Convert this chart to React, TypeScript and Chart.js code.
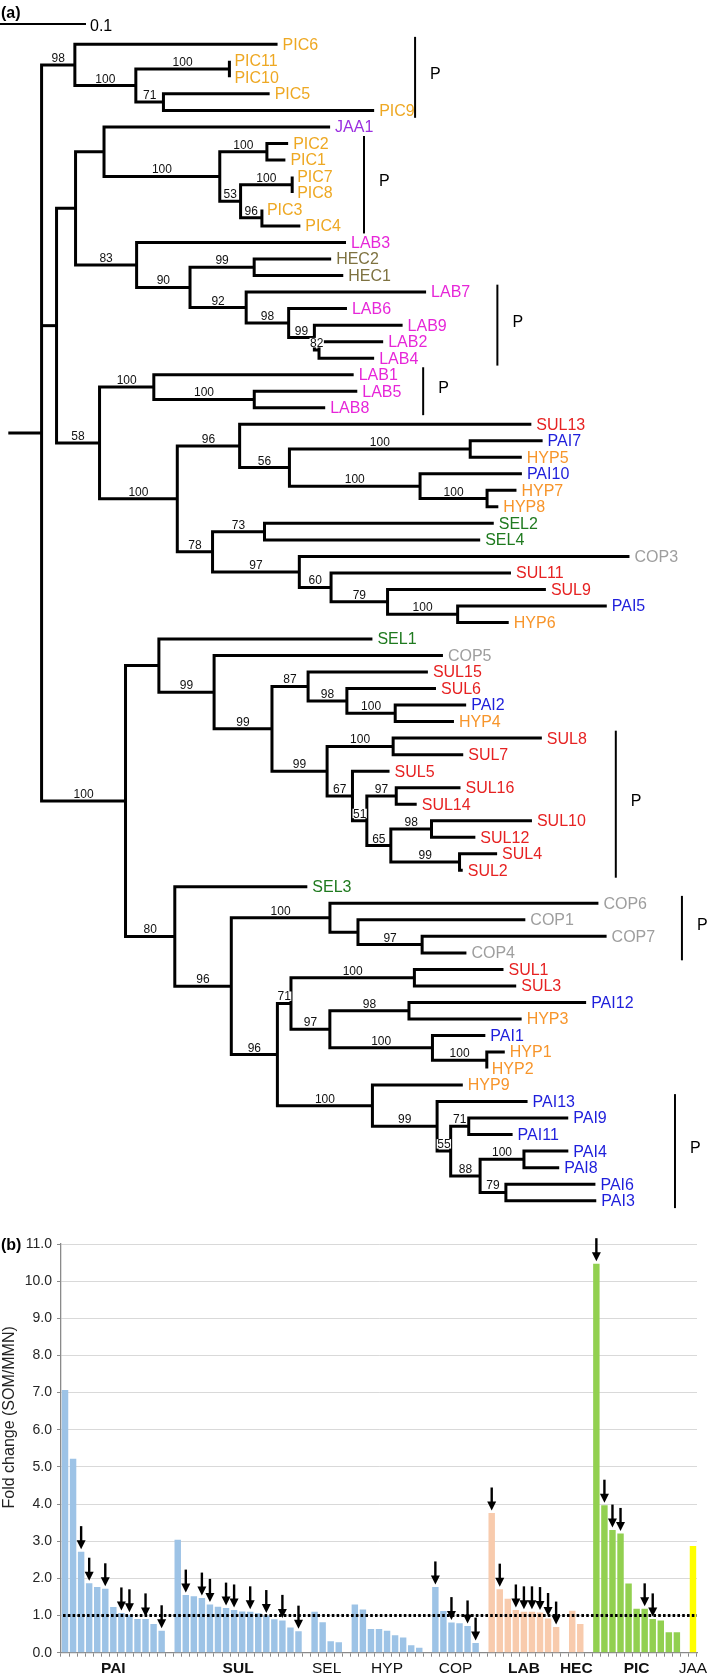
import React, { useEffect, useRef } from 'react';
import { Chart, registerables } from 'chart.js';
Chart.register(...registerables);

const FONT = '"Liberation Sans", Arial, Helvetica, sans-serif';

// ---------------- Tree (a) data ----------------
const treeNewick = `((PIC6:0.2357,((PIC11:0,PIC10:0)100:0.1088,(PIC5:0.1235,PIC9:0.2450)71:0.0321)100:0.0709)98:0.0387,
(((JAA1:0.2629,((PIC2:0.0247,PIC1:0.0215)100:0.0548,((PIC7:0,PIC8:0)100:0.0600,(PIC3:0,PIC4:0.0447)96:0.0248)53:0.0242)100:0.1346):0.0331,
(LAB3:0.2435,((HEC2:0.0895,HEC1:0.1036)99:0.0746,(LAB7:0.2092,(LAB6:0.0678,(LAB9:0.1026,(LAB2:0.0746,LAB4:0.0641)82:0.0054)99:0.0299)98:0.0494)92:0.0653)90:0.0621)83:0.0710):0.0221,
((LAB1:0.2324,(LAB5:0.1198,LAB8:0.0825)100:0.1168)100:0.0631,
((SUL13:0.3392,((PAI7:0.0842,HYP5:0.0600)100:0.2102,(PAI10:0.1184,(HYP7:0.0342,HYP8:0.0131)100:0.0779)100:0.1519)56:0.0579)96:0.0725,
((SEL2:0.2666,SEL4:0.2508)73:0.0604,(COP3:0.3839,(SUL11:0.2092,(SUL9:0.1841,(PAI5:0.1734,HYP6:0.0594)100:0.0815)79:0.0657)60:0.0369)97:0.1009)78:0.0410)100:0.0904)58:0.0500):0.0174,
((SEL1:0.2483,(COP5:0.2661,((SUL15:0.1393,(SUL6:0.1036,(PAI2:0.0825,HYP4:0.0683)100:0.0562)98:0.0451)87:0.0420,((SUL8:0.1729,SUL7:0.0815)100:0.0768,(SUL5:0.0431,((SUL16:0.0747,SUL14:0.0238)97:0.0342,((SUL10:0.1168,SUL12:0.0510)98:0.0473,(SUL4:0.0437,SUL2:0.0037)99:0.0799)65:0.0279)51:0.0167)67:0.0295)99:0.0641)99:0.0673)99:0.0642):0.0388,
(SEL3:0.1541,((COP6:0.3122,(COP1:0.1946,(COP7:0.2145,COP4:0.0515)97:0.0746):0.0326)100:0.1147,
(((SUL1:0.1036,SUL3:0.1184)100:0.1435,((PAI12:0.2060,HYP3:0.1310)98:0.0920,(PAI1:0.0615,(HYP1:0.0209,HYP2:0)100:0.0632)100:0.1193)97:0.0452)71:0.0158,
(HYP9:0.1051,(PAI13:0.1052,((PAI9:0.1157,PAI11:0.0510)71:0.0210,((PAI4:0.0516,PAI8:0.0410)100:0.0510,(PAI6:0.1041,PAI3:0.1051)79:0.0300)88:0.0342)55:0.0158)99:0.0752)100:0.1105)96:0.0536)96:0.0657)80:0.0573)100:0.0976):0.0387):0.0202;`;

const taxonColors: Record<string, string> = {
  PIC: '#EEA823',
  HYP: '#F7952B',
  JAA: '#9B2FE0',
  LAB: '#E626D8',
  HEC: '#7E7240',
  SUL: '#E62222',
  PAI: '#1E1EDB',
  SEL: '#1F7A1F',
  COP: '#9E9E9E',
};

const cladeBrackets = [
  { first: 'PIC6', last: 'PIC9', depth: 0.4730, label: 'P' },
  { first: 'PIC2', last: 'PIC4', depth: 0.4136, label: 'P' },
  { first: 'LAB7', last: 'LAB4', depth: 0.5687, label: 'P' },
  { first: 'LAB1', last: 'LAB8', depth: 0.4824, label: 'P' },
  { first: 'SUL8', last: 'SUL2', depth: 0.7064, label: 'P' },
  { first: 'COP6', last: 'COP4', depth: 0.7833, label: 'P' },
  { first: 'PAI13', last: 'PAI3', depth: 0.7752, label: 'P' },
];

const scaleBarLength = 0.1;

// ---------------- Bar chart (b) data ----------------
const groupNames = ['PAI', 'SUL', 'SEL', 'HYP', 'COP', 'LAB', 'HEC', 'PIC', 'JAA'];
const groupBold = [true, true, false, false, false, true, true, true, false];
const paiValues = [7.07, 5.22, 2.72, 1.87, 1.77, 1.72, 1.23, 1.07, 1.02, 0.91, 0.91, 0.77, 0.59];
const sulValues = [3.04, 1.55, 1.52, 1.47, 1.30, 1.24, 1.20, 1.15, 1.11, 1.10, 1.06, 1.00, 0.90, 0.87, 0.68, 0.58];
const selValues = [1.10, 0.82, 0.31, 0.28];
const hypValues = [1.30, 1.16, 0.64, 0.64, 0.59, 0.47, 0.41, 0.20, 0.13];
const copValues = [1.77, 1.12, 0.81, 0.79, 0.72, 0.26];
const labValues = [3.76, 1.71, 1.45, 1.15, 1.10, 1.10, 1.08, 0.92, 0.69];
const hecValues = [1.13, 0.77];
const picValues = [10.47, 3.97, 3.30, 3.21, 1.86, 1.18, 1.18, 0.91, 0.87, 0.55, 0.55];
const jaaValues = [2.87];

const paiArrows = [2, 3, 5, 7, 8, 10, 12];
const sulArrows = [1, 3, 4, 6, 7, 9, 11, 13, 15];
const selArrows: number[] = [];
const hypArrows: number[] = [];
const copArrows = [0, 2, 4, 5];
const labArrows = [0, 1, 3, 4, 5, 6, 7, 8];
const hecArrows: number[] = [];
const picArrows = [0, 1, 2, 3, 6, 7];
const jaaArrows: number[] = [];

const barBlue = '#9DC3E6';
const barPeach = '#F8CBAD';
const barGreen = '#92D050';
const barYellow = '#FFFF00';

const groupValues = [paiValues, sulValues, selValues, hypValues, copValues, labValues, hecValues, picValues, jaaValues];
const groupArrows = [paiArrows, sulArrows, selArrows, hypArrows, copArrows, labArrows, hecArrows, picArrows, jaaArrows];
const groupColors = [barBlue, barBlue, barBlue, barBlue, barBlue, barPeach, barPeach, barGreen, barYellow];

const yTicksMin = 0;
const yTicksMax = 11;
const yTickStep = 1;
const referenceLevel = 1.0;
const yAxisTitle = 'Fold change (SOM/MMN)';

// ---------------- Tree parsing/layout ----------------
type TNode = { name: string; len: number; children: TNode[]; x: number; y: number; px0: number };

function parseNewick(src: string): TNode {
  const s = src.replace(/\s+/g, '');
  let i = 0;
  function parseNode(): TNode {
    const node: TNode = { name: '', len: 0, children: [], x: 0, y: 0, px0: 0 };
    if (s[i] === '(') {
      i++;
      node.children.push(parseNode());
      while (s[i] === ',') {
        i++;
        node.children.push(parseNode());
      }
      i++; // ')'
    }
    let name = '';
    while (i < s.length && !',():;'.includes(s[i])) name += s[i++];
    node.name = name;
    if (s[i] === ':') {
      i++;
      let num = '';
      while (i < s.length && !',();'.includes(s[i])) num += s[i++];
      node.len = parseFloat(num);
    }
    return node;
  }
  return parseNode();
}

const treeRoot = parseNewick(treeNewick);
const allNodes: TNode[] = [];
(function layout(node: TNode, parentX: number, counter: { i: number }) {
  node.px0 = parentX;
  node.x = parentX + node.len;
  allNodes.push(node);
  if (!node.children.length) {
    node.y = counter.i++;
  } else {
    node.children.forEach((c) => layout(c, node.x, counter));
    node.y = (node.children[0].y + node.children[node.children.length - 1].y) / 2;
  }
})(treeRoot, 0, { i: 0 });
const leafNodes = allNodes.filter((n) => !n.children.length);
const leafByName: Record<string, TNode> = {};
leafNodes.forEach((n) => (leafByName[n.name] = n));

function buildTreeDatasets() {
  const ds: any[] = [];
  const style = {
    showLine: true,
    borderColor: '#000',
    borderWidth: 3,
    pointRadius: 0,
    borderJoinStyle: 'miter',
    borderCapStyle: 'butt',
    fill: false,
    tension: 0,
  };
  ds.push({ ...style, data: [{ x: 0, y: treeRoot.y }, { x: treeRoot.x, y: treeRoot.y }] });
  allNodes.forEach((n) => {
    if (!n.children.length) return;
    const a = n.children[0];
    const b = n.children[n.children.length - 1];
    ds.push({
      ...style,
      data: [
        { x: a.x, y: a.y },
        { x: n.x, y: a.y },
        { x: n.x, y: b.y },
        { x: b.x, y: b.y },
      ],
    });
    for (let k = 1; k < n.children.length - 1; k++) {
      const c = n.children[k];
      ds.push({ ...style, data: [{ x: n.x, y: c.y }, { x: c.x, y: c.y }] });
    }
  });
  return ds;
}

const treePlugin = {
  id: 'treeAnnotations',
  afterDatasetsDraw(chart: any) {
    const { ctx } = chart;
    const xs = chart.scales.x;
    const ys = chart.scales.y;
    ctx.save();
    // bootstrap values
    ctx.font = `12px ${FONT}`;
    ctx.textAlign = 'center';
    ctx.textBaseline = 'alphabetic';
    allNodes.forEach((n) => {
      if (!n.children.length || !n.name) return;
      const mx = (xs.getPixelForValue(n.px0) + xs.getPixelForValue(n.x)) / 2;
      const py = ys.getPixelForValue(n.y) - 3;
      const w = ctx.measureText(n.name).width;
      ctx.fillStyle = '#fff';
      ctx.fillRect(mx - w / 2 - 0.5, py - 9, w + 1, 9.5);
      ctx.fillStyle = '#111';
      ctx.fillText(n.name, mx, py);
    });
    // leaf labels
    ctx.font = `16px ${FONT}`;
    ctx.textAlign = 'left';
    ctx.textBaseline = 'middle';
    leafNodes.forEach((n) => {
      const prefix = n.name.replace(/\d+$/, '');
      ctx.fillStyle = taxonColors[prefix] || '#000';
      ctx.fillText(n.name, xs.getPixelForValue(n.x) + 5, ys.getPixelForValue(n.y) + 1);
    });
    // brackets
    ctx.strokeStyle = '#000';
    ctx.lineWidth = 2;
    ctx.fillStyle = '#000';
    cladeBrackets.forEach((b) => {
      const bx = xs.getPixelForValue(b.depth);
      const y1 = ys.getPixelForValue(leafByName[b.first].y - 0.45);
      const y2 = ys.getPixelForValue(leafByName[b.last].y + 0.45);
      ctx.beginPath();
      ctx.moveTo(bx, y1);
      ctx.lineTo(bx, y2);
      ctx.stroke();
      ctx.fillText(b.label, bx + 15, (y1 + y2) / 2 - 3);
    });
    // panel letter & scale bar
    ctx.font = `bold 16px ${FONT}`;
    ctx.fillText('(a)', 1, 14);
    const sx0 = xs.getPixelForValue(xs.min);
    const sx1 = xs.getPixelForValue(xs.min + scaleBarLength);
    ctx.lineWidth = 1.8;
    ctx.beginPath();
    ctx.moveTo(sx0, 24);
    ctx.lineTo(sx1, 24);
    ctx.stroke();
    ctx.font = `16px ${FONT}`;
    ctx.fillText(String(scaleBarLength), sx1 + 4, 27);
    ctx.restore();
  },
};

// ---------------- Bar chart build ----------------
const slotLabels: string[] = [];
const groupSlots: number[][] = [];
groupValues.forEach((vals, g) => {
  const idx: number[] = [];
  vals.forEach(() => {
    idx.push(slotLabels.length);
    slotLabels.push(groupNames[g]);
  });
  groupSlots.push(idx);
  if (g < groupValues.length - 1) slotLabels.push('');
});

function buildBarDatasets() {
  return groupValues.map((vals, g) => {
    const data: (number | null)[] = slotLabels.map(() => null);
    vals.forEach((v, k) => (data[groupSlots[g][k]] = v));
    return {
      label: groupNames[g],
      data,
      backgroundColor: groupColors[g],
      borderWidth: 0,
      grouped: false,
      barPercentage: 0.8,
      categoryPercentage: 1.0,
    };
  });
}

function drawArrow(ctx: CanvasRenderingContext2D, x: number, tipY: number) {
  const total = 23;
  const headH = 9;
  const headW = 9;
  ctx.beginPath();
  ctx.moveTo(x, tipY - total);
  ctx.lineTo(x, tipY - headH + 1);
  ctx.lineWidth = 2.4;
  ctx.strokeStyle = '#000';
  ctx.stroke();
  ctx.beginPath();
  ctx.moveTo(x - headW / 2, tipY - headH);
  ctx.lineTo(x + headW / 2, tipY - headH);
  ctx.lineTo(x, tipY);
  ctx.closePath();
  ctx.fillStyle = '#000';
  ctx.fill();
}

const barPlugin = {
  id: 'barAnnotations',
  afterDatasetsDraw(chart: any) {
    const { ctx, chartArea } = chart;
    const ys = chart.scales.y;
    ctx.save();
    const ry = ys.getPixelForValue(referenceLevel);
    ctx.setLineDash([2.6, 2.2]);
    ctx.lineWidth = 3;
    ctx.strokeStyle = '#000';
    ctx.beginPath();
    ctx.moveTo(chartArea.left + 2, ry);
    ctx.lineTo(chartArea.right, ry);
    ctx.stroke();
    ctx.setLineDash([]);
    groupArrows.forEach((arr, g) => {
      const meta = chart.getDatasetMeta(g);
      arr.forEach((k) => {
        const el = meta.data[groupSlots[g][k]];
        if (el) drawArrow(ctx, el.x, el.y - 2.5);
      });
    });
    ctx.restore();
  },
  afterDraw(chart: any) {
    const { ctx, chartArea } = chart;
    const xs = chart.scales.x;
    const ys = chart.scales.y;
    ctx.save();
    ctx.fillStyle = '#111';
    ctx.textBaseline = 'middle';
    ctx.textAlign = 'center';
    groupSlots.forEach((idx, g) => {
      const x0 = xs.getPixelForValue(idx[0]);
      const x1 = xs.getPixelForValue(idx[idx.length - 1]);
      ctx.font = `${groupBold[g] ? 'bold ' : ''}15.5px ${FONT}`;
      ctx.fillText(groupNames[g], (x0 + x1) / 2, chartArea.bottom + 16);
    });
    ctx.save();
    ctx.translate(10, (chartArea.top + chartArea.bottom) / 2 - 31);
    ctx.rotate(-Math.PI / 2);
    ctx.font = `16px ${FONT}`;
    ctx.fillStyle = '#222';
    ctx.fillText(yAxisTitle, 0, 0);
    ctx.restore();
    ctx.font = `bold 16px ${FONT}`;
    ctx.textAlign = 'left';
    ctx.fillStyle = '#000';
    ctx.fillText('(b)', 1, ys.getPixelForValue(yTicksMax) + 2);
    ctx.restore();
  },
};

export default function App() {
  const treeRef = useRef<HTMLCanvasElement>(null);
  const barRef = useRef<HTMLCanvasElement>(null);

  useEffect(() => {
    const treeChart = new Chart(treeRef.current as HTMLCanvasElement, {
      type: 'scatter',
      data: { datasets: buildTreeDatasets() },
      options: {
        animation: false,
        responsive: false,
        events: [],
        layout: { padding: 0 },
        plugins: { legend: { display: false }, tooltip: { enabled: false } },
        scales: {
          x: { type: 'linear', display: false, min: -0.00965, max: 0.81477 },
          y: { type: 'linear', display: false, reverse: true, min: -2.6816, max: 71.17 },
        },
      } as any,
      plugins: [treePlugin],
    });

    const barChart = new Chart(barRef.current as HTMLCanvasElement, {
      type: 'bar',
      data: { labels: slotLabels, datasets: buildBarDatasets() as any },
      options: {
        animation: false,
        responsive: false,
        events: [],
        layout: { padding: { top: 24, right: 12, left: 0, bottom: 0 } },
        plugins: { legend: { display: false }, tooltip: { enabled: false } },
        scales: {
          x: {
            type: 'category',
            offset: true,
            grid: {
              display: true,
              drawOnChartArea: false,
              drawTicks: true,
              tickLength: 4,
              offset: true,
              color: '#8a8a8a',
              tickColor: '#8a8a8a',
            },
            border: { display: true, color: '#8a8a8a', width: 1.3 },
            ticks: { display: false, autoSkip: false },
            afterFit: (s: any) => {
              s.height = 27.3;
            },
          },
          y: {
            min: yTicksMin,
            max: yTicksMax,
            ticks: {
              stepSize: yTickStep,
              callback: (v: any) => Number(v).toFixed(1),
              font: { size: 14, family: FONT },
              color: '#262626',
              padding: 5,
            },
            grid: { color: '#d9d9d9', lineWidth: 1, tickLength: 4, tickColor: '#8a8a8a', drawTicks: true },
            border: { display: true, color: '#8a8a8a', width: 1.3 },
            afterFit: (s: any) => {
              s.width = 61;
            },
          },
        },
      } as any,
      plugins: [barPlugin],
    });

    return () => {
      treeChart.destroy();
      barChart.destroy();
    };
  }, []);

  return (
    <div style={{ position: 'absolute', left: 0, top: 0, width: 709, height: 1680, background: '#fff' }}>
      <canvas
        ref={treeRef}
        width={709}
        height={1220}
        style={{ position: 'absolute', left: 0, top: 0, width: 709, height: 1220 }}
      />
      <canvas
        ref={barRef}
        width={709}
        height={460}
        style={{ position: 'absolute', left: 0, top: 1220, width: 709, height: 460 }}
      />
    </div>
  );
}
